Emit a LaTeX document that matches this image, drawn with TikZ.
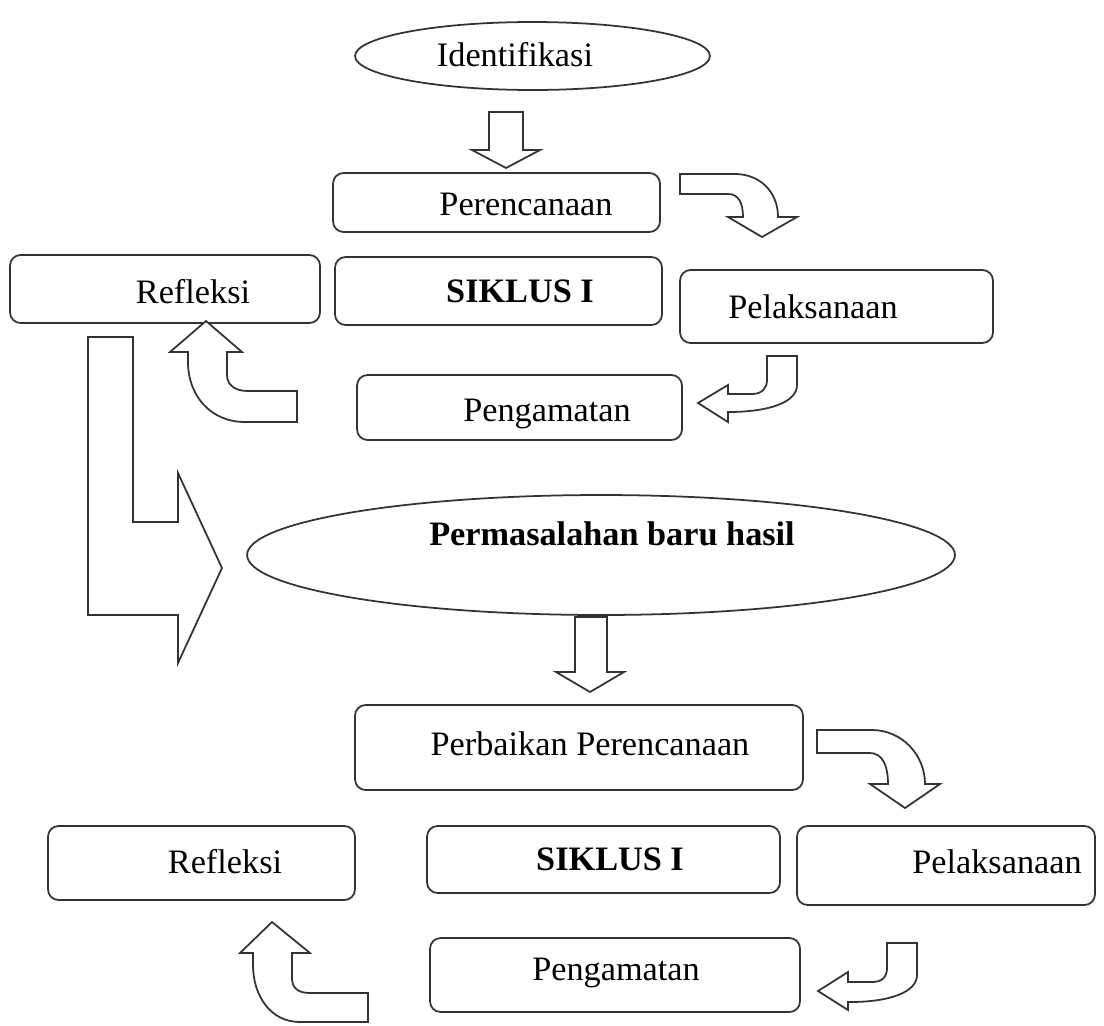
\documentclass[tikz,border=0pt]{standalone}
\usepackage{fontspec}
\setmainfont{Liberation Serif}
\usetikzlibrary{shapes.geometric}
\tikzset{
	kotak/.style={draw=black!80, line width=1pt, rounded corners=6pt, rectangle, inner sep=0pt},
	elips/.style={draw=black!80, line width=1pt, ellipse, inner sep=0pt},
	teks/.style={anchor=base, inner sep=0pt, font=\fontsize{19.5}{23}\selectfont},
	panah/.style={draw=black!80, line width=1pt, line join=miter, fill=white}
}
\begin{document}
\begin{tikzpicture}[x=0.02cm, y=-0.02cm]
		\useasboundingbox (0,0) rectangle (1104,1025);
		\node[elips, minimum width=7.1cm, minimum height=1.36cm] (ident) at (532.5,56) { };
		\node[kotak, minimum width=6.54cm, minimum height=1.18cm] (rencana1) at (496.5,202.5) { };
		\node[kotak, minimum width=6.2cm, minimum height=1.36cm] (refleksi1) at (165,289) { };
		\node[kotak, minimum width=6.54cm, minimum height=1.36cm] (siklus1) at (498.5,291) { };
		\node[kotak, minimum width=6.26cm, minimum height=1.46cm] (laksana1) at (836.5,306.5) { };
		\node[kotak, minimum width=6.5cm, minimum height=1.3cm] (amat1) at (519.5,407.5) { };
		\node[elips, minimum width=14.16cm, minimum height=2.4cm] (masalah) at (601,555) { };
		\node[kotak, minimum width=8.96cm, minimum height=1.7cm] (rencana2) at (579,747.5) { };
		\node[kotak, minimum width=6.14cm, minimum height=1.48cm] (refleksi2) at (201.5,863) { };
		\node[kotak, minimum width=7.06cm, minimum height=1.34cm] (siklus2) at (603.5,859.5) { };
		\node[kotak, minimum width=5.96cm, minimum height=1.58cm] (laksana2) at (946,865.5) { };
		\node[kotak, minimum width=7.4cm, minimum height=1.48cm] (amat2) at (615,975) { };
		\node[teks] (identlinha) at (515,66) {Identifikasi};
		\node[teks] (rencana1linha) at (526,215) {Perencanaan};
		\node[teks] (refleksi1linha) at (193,303) {Refleksi};
		\node[teks, font=\fontsize{19.5}{23}\selectfont\bfseries] (siklus1linha) at (520,302) {SIKLUS I};
		\node[teks] (laksana1linha) at (813,318) {Pelaksanaan};
		\node[teks] (amat1linha) at (547,421) {Pengamatan};
		\node[teks, font=\fontsize{19.5}{23}\selectfont\bfseries] (masalahlinha) at (612,545) {Permasalahan baru hasil};
		\node[teks] (rencana2linha) at (590,755) {Perbaikan Perencanaan};
		\node[teks] (refleksi2linha) at (225,873) {Refleksi};
		\node[teks, font=\fontsize{19.5}{23}\selectfont\bfseries] (siklus2linha) at (610,870) {SIKLUS I};
		\node[teks] (laksana2linha) at (997,873) {Pelaksanaan};
		\node[teks] (amat2linha) at (616,980) {Pengamatan};
		\draw[panah] (489,112) -- (523,112) -- (523,150) -- (540,150) -- (506,168) -- (472,150) -- (489,150) -- cycle;
		\draw[panah] (680,174) -- (735,174) .. controls (760,174) and (778,192) .. (778,217) -- (797,217) -- (762,237) -- (728,217) -- (743,217) .. controls (743,202) and (738,194) .. (728,194) -- (680,194) -- cycle;
		\draw[panah] (767,356) -- (797,356) -- (797,385) .. controls (797,402) and (770,412) .. (728,412) -- (728,422) -- (698,403) -- (728,385) -- (728,394) -- (752,394) .. controls (762,394) and (767,388) .. (767,380) -- cycle;
		\draw[panah] (206,321) -- (242,352) -- (227,352) -- (227,375) .. controls (227,385) and (235,391) .. (248,391) -- (297,391) -- (297,422) -- (245,422) .. controls (210,422) and (188,395) .. (188,362) -- (188,352) -- (170,352) -- cycle;
		\draw[panah] (88,337) -- (133,337) -- (133,522) -- (178,522) -- (178,473) -- (222,568) -- (178,663) -- (178,615) -- (88,615) -- cycle;
		\draw[panah] (575,617) -- (607,617) -- (607,672) -- (624,672) -- (590,692) -- (556,672) -- (575,672) -- cycle;
		\draw[panah] (817,730) -- (872,730) .. controls (902,730) and (925,755) .. (925,784) -- (940,784) -- (905,808) -- (870,784) -- (888,784) .. controls (888,765) and (882,753) .. (870,753) -- (817,753) -- cycle;
		\draw[panah] (887,943) -- (917,943) -- (917,975) .. controls (917,992) and (890,1002) .. (850,1002) -- (848,1002) -- (848,1010) -- (818,991) -- (848,972) -- (848,982) -- (872,982) .. controls (882,982) and (887,977) .. (887,968) -- cycle;
		\draw[panah] (272,922) -- (310,953) -- (292,953) -- (292,978) .. controls (292,988) and (298,993) .. (310,993) -- (368,993) -- (368,1022) -- (300,1022) .. controls (270,1022) and (253,995) .. (253,965) -- (253,953) -- (240,953) -- cycle;
		\end{tikzpicture}
\end{document}
